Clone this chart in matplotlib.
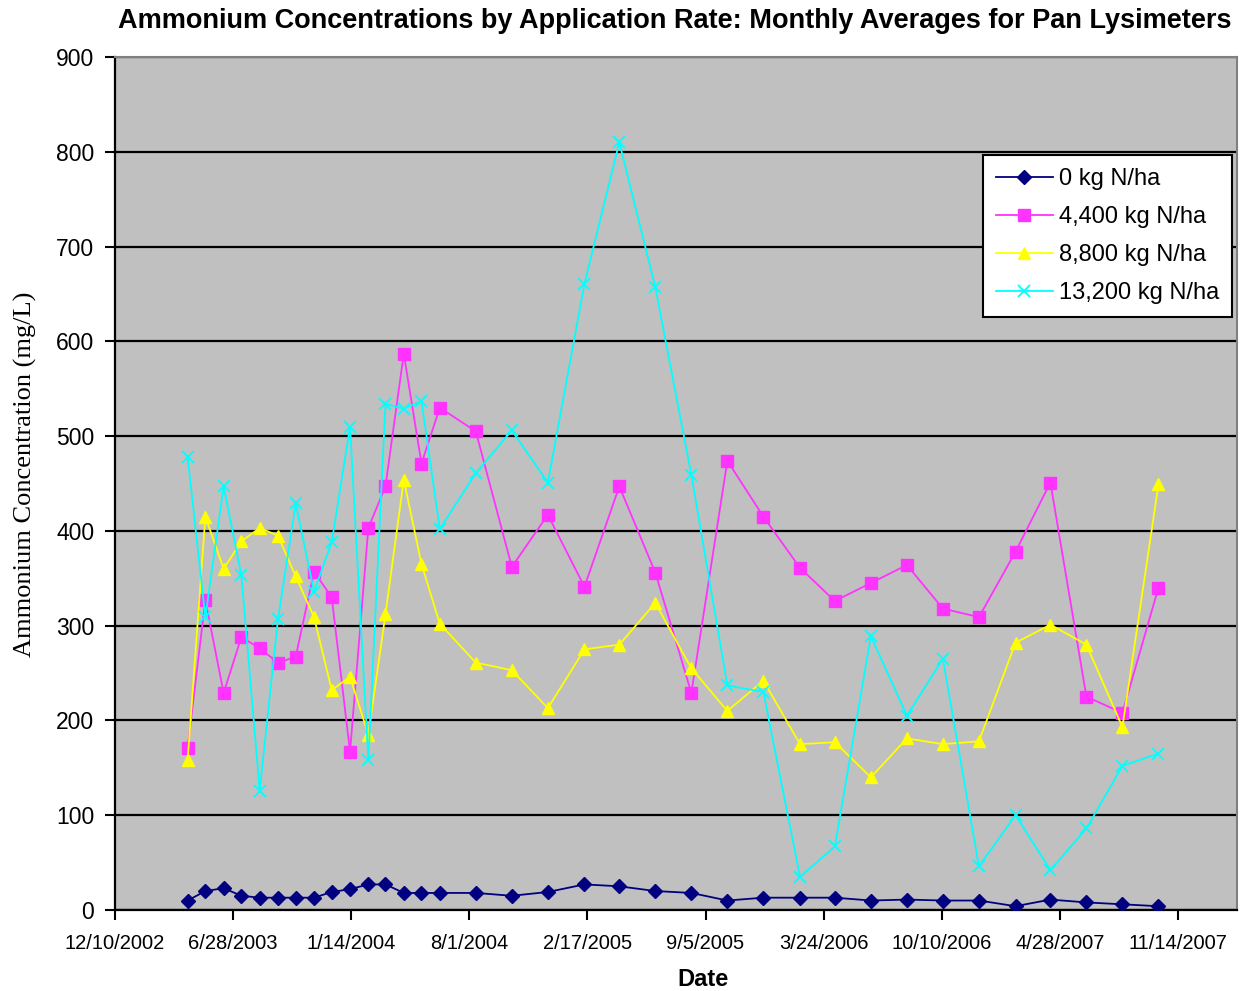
import datetime as dt
import matplotlib
matplotlib.use("Agg")
import matplotlib.pyplot as plt

# ---- data ----
dates = ["2003-04-12", "2003-05-12", "2003-06-12", "2003-07-12", "2003-08-12",
         "2003-09-12", "2003-10-12", "2003-11-12", "2003-12-12", "2004-01-12",
         "2004-02-12", "2004-03-12", "2004-04-12", "2004-05-12", "2004-06-12",
         "2004-08-12", "2004-10-12", "2004-12-12", "2005-02-12", "2005-04-12",
         "2005-06-12", "2005-08-12", "2005-10-12", "2005-12-12", "2006-02-12",
         "2006-04-12", "2006-06-12", "2006-08-12", "2006-10-12", "2006-12-12",
         "2007-02-12", "2007-04-12", "2007-06-12", "2007-08-12", "2007-10-12"]

rate_0 = [10, 20, 23, 15, 13, 13, 13, 13, 19, 22,
          27, 27, 18, 18, 18, 18, 15, 19, 27, 25,
          20, 18, 10, 13, 13, 13, 10, 11, 10, 10,
          4, 11, 8, 6, 4]
rate_4400 = [171, 327, 229, 288, 276, 261, 267, 357, 330, 167,
             403, 447, 587, 471, 530, 505, 362, 417, 341, 447,
             356, 229, 474, 415, 361, 326, 345, 364, 318, 309,
             378, 451, 225, 208, 340]
rate_8800 = [158, 415, 360, 389, 403, 395, 352, 309, 232, 246,
             185, 312, 454, 365, 302, 261, 253, 213, 275, 280,
             324, 255, 210, 242, 175, 177, 140, 181, 175, 178,
             282, 301, 280, 193, 449]
rate_13200 = [478, 309, 447, 353, 126, 307, 429, 336, 388, 510,
              158, 534, 529, 537, 402, 461, 506, 451, 661, 810,
              657, 459, 237, 230, 35, 67, 289, 205, 265, 46,
              100, 42, 86, 152, 165]

series_labels = ["0 kg N/ha", "4,400 kg N/ha", "8,800 kg N/ha", "13,200 kg N/ha"]
y_ticks = [0, 100, 200, 300, 400, 500, 600, 700, 800, 900]
x_start = "2002-12-10"
x_end = "2008-02-22"
x_tick_step_days = 200

# ---- plot ----
x = [dt.datetime.strptime(d, "%Y-%m-%d") for d in dates]
x0 = dt.datetime.strptime(x_start, "%Y-%m-%d")
x1 = dt.datetime.strptime(x_end, "%Y-%m-%d")
xticks = []
t = x0
while t <= x1:
    xticks.append(t)
    t = t + dt.timedelta(days=x_tick_step_days)

W, H = 1244, 991
fig = plt.figure(figsize=(W / 100, H / 100), dpi=100)
ax = fig.add_axes([115 / W, 1 - 910 / H, 1122 / W, 853 / H])
ax.set_facecolor("#C0C0C0")

styles = [
    dict(color="#000080", marker="D", markersize=7),
    dict(color="#FF33FF", marker="s", markersize=8),
    dict(color="#FFFF00", marker="^", markersize=9),
    dict(color="#00FFFF", marker="x", markersize=8, markeredgewidth=1.3),
]
for vals, lab, st in zip([rate_0, rate_4400, rate_8800, rate_13200], series_labels, styles):
    ax.plot(x, vals, label=lab, linewidth=1.3, zorder=3, **st)

ax.set_xlim(x0, x1)
ax.set_ylim(0, 900)
ax.set_yticks(y_ticks)
ax.set_yticklabels([str(v) for v in y_ticks], fontsize=16.5, family="Liberation Sans")
ax.set_xticks(xticks)
ax.set_xticklabels([f"{d.month}/{d.day}/{d.year}" for d in xticks], fontsize=14.5,
                   family="Liberation Sans")
ax.tick_params(axis="both", direction="out", length=7, width=1.5, color="black")
ax.tick_params(axis="x", pad=10)
ax.tick_params(axis="y", pad=8)

ax.grid(axis="y", color="black", linewidth=1.6, zorder=1)
ax.set_axisbelow(True)

for s in ["left", "bottom"]:
    ax.spines[s].set_color("black")
    ax.spines[s].set_linewidth(1.6)
for s in ["top", "right"]:
    ax.spines[s].set_color("#808080")
    ax.spines[s].set_linewidth(1.5)

fig.text(675 / W, 1 - 21 / H,
         "Ammonium Concentrations by Application Rate: Monthly Averages for Pan Lysimeters",
         fontsize=19.5, fontweight="bold", family="Liberation Sans", ha="center", va="center")
fig.text(703 / W, 1 - 979 / H, "Date", fontsize=17, fontweight="bold",
         family="Liberation Sans", ha="center", va="center")
fig.text(25 / W, 1 - 474 / H, "Ammonium Concentration (mg/L)", fontsize=19,
         family="Liberation Serif", ha="center", va="center", rotation=90)

leg = ax.legend(loc="upper right", bbox_to_anchor=(0.9955, 0.885),
                prop={"family": "Liberation Sans", "size": 17},
                frameon=True, fancybox=False, edgecolor="black", facecolor="white",
                framealpha=1, handlelength=2.4, handletextpad=0.25, borderpad=0.55,
                labelspacing=0.68, borderaxespad=0)
leg.get_frame().set_linewidth(1.5)

fig.savefig("out.png", dpi=100, facecolor="white")
